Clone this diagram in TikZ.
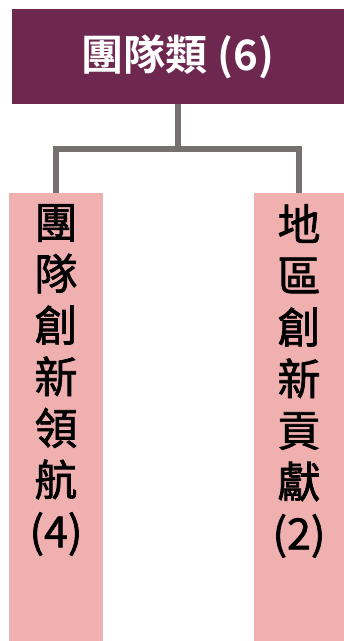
\documentclass[tikz,border=0pt]{standalone}
\usepackage{fontspec}
\newfontfamily\cjk{Noto Sans CJK TC}[BoldFont={Noto Sans CJK TC Bold}]
\newfontfamily\cjkmid{Noto Sans CJK TC}[FakeBold=1.6]
\definecolor{plum}{HTML}{6E2850}
\definecolor{rose}{HTML}{F0B0B0}
\definecolor{stem}{HTML}{767171}
\tikzset{
	head/.style={fill=plum,text=white,minimum width=333pt,minimum height=95pt,inner sep=0pt,font=\cjk\bfseries\fontsize{42}{50}\selectfont},
	leaf/.style={fill=rose,anchor=north,minimum height=448pt,inner sep=0pt},
	word/.style={anchor=north,align=center,inner sep=0pt,font=\cjkmid\fontsize{43}{51.5}\selectfont},
	link/.style={draw=stem,line width=6pt}
}
\begin{document}
	\begin{tikzpicture}[x=1pt,y=1pt]
		\useasboundingbox(0,0)rectangle(344,-641);
		\node[head](top)at(178,-56.5){團隊類 (6)};
		\node[leaf,minimum width=94pt,label={[word,yshift=-11pt]north:團\\隊\\創\\新\\領\\航\\(4)}](left)at(56,-193){};
		\node[leaf,minimum width=90pt,label={[word,yshift=-11pt]north:地\\區\\創\\新\\貢\\獻\\(2)}](right)at(299,-193){};
		\draw[link](top.south)--++(0,-45)coordinate(fork);
		\draw[link](left.north)|-(fork)-|(right.north);
	\end{tikzpicture}
\end{document}
